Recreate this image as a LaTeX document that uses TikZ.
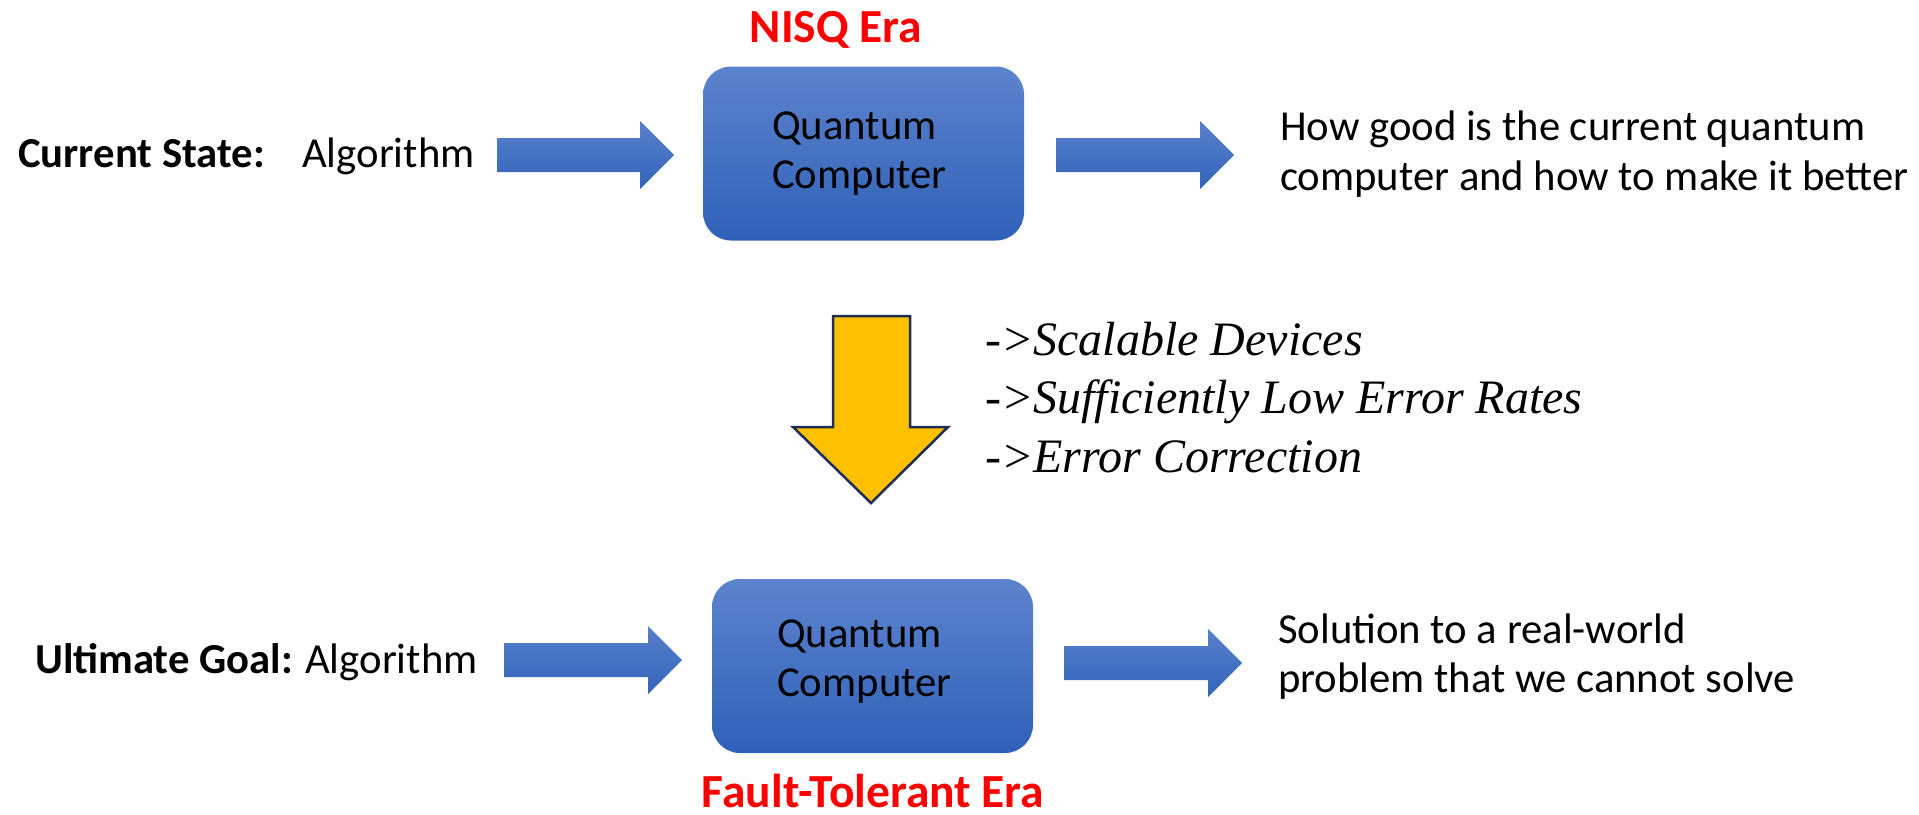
\documentclass[tikz,border=0pt]{standalone}
\usepackage{fontspec}
\setmainfont{Carlito}
\newfontfamily\seriffam{Liberation Serif}
\usetikzlibrary{shapes.geometric}
\definecolor{boxtop}{RGB}{93,131,205}
\definecolor{boxbot}{RGB}{47,97,184}
\definecolor{arrtop}{RGB}{88,128,203}
\definecolor{arrbot}{RGB}{50,100,188}
\definecolor{gold}{RGB}{255,192,0}
\definecolor{navy}{RGB}{31,46,84}
\definecolor{erared}{RGB}{255,0,0}
\tikzset{
  qbox/.style={rounded corners=28pt, top color=boxtop, bottom color=boxbot,
    minimum width=321pt, minimum height=174pt, inner sep=0pt},
  body/.style={inner sep=0pt, anchor=base west, text=black,
    font=\fontsize{42.7}{49}\selectfont},
  era/.style={inner sep=0pt, anchor=base, text=erared,
    font=\fontsize{47.5}{55}\selectfont\bfseries},
  italine/.style={inner sep=0pt, anchor=base west, text=black,
    font=\fontsize{48}{58.5}\selectfont\seriffam\itshape},
  pics/blockarrow/.style={code={
    \shade[top color=arrtop, bottom color=arrbot]
      (0,-17) -- (#1-34,-17) -- (#1-34,-34) -- (#1,0) -- (#1-34,34)
      -- (#1-34,17) -- (0,17) -- cycle;
  }}
}
\begin{document}
\begin{tikzpicture}[x=1pt,y=-1pt]
\useasboundingbox (0,0) rectangle (1919,814);

% top row
\node[body, font=\fontsize{42.7}{49}\selectfont\bfseries] (cs) at (18,167) {Current State:};
\node[body] (alg1) at (302,167) {Algorithm};
\pic (a1) at (497,155) {blockarrow=177};
\node[qbox] (qc1) at (863.5,153.5) {};
\node[body] (qc1t) at (772,139) {\begin{tabular}[t]{@{}l@{}}Quantum\\Computer\end{tabular}};
\node[era] (nisq) at (836,42) {NISQ Era};
\pic (a2) at (1056,155) {blockarrow=178};
\node[body, font=\fontsize{42.7}{50}\selectfont] (out1) at (1280,140) {\begin{tabular}[t]{@{}l@{}}How good is the current quantum\\computer and how to make it better\end{tabular}};

% middle
\filldraw[fill=gold, draw=navy, line width=2.5pt, line join=miter]
  (833,316) -- (910,316) -- (910,427) -- (948,427) -- (871,503)
  -- (793,427) -- (833,427) -- cycle;
\node[italine] (l1) at (985,355) {->Scalable Devices};
\node[italine] (l2) at (985,413.5) {->Sufficiently Low Error Rates};
\node[italine] (l3) at (985,472) {->Error Correction};

% bottom row
\node[body, font=\fontsize{42.7}{49}\selectfont\bfseries] (ug) at (35,673) {Ultimate Goal:};
\node[body] (alg2) at (305,673) {Algorithm};
\pic (a3) at (504,660) {blockarrow=178};
\node[qbox] (qc2) at (872.5,666) {};
\node[body] (qc2t) at (777,647) {\begin{tabular}[t]{@{}l@{}}Quantum\\Computer\end{tabular}};
\node[era] (ft) at (873,807) {Fault-Tolerant Era};
\pic (a4) at (1064,663) {blockarrow=178};
\node[body] (out2) at (1278,643) {\begin{tabular}[t]{@{}l@{}}Solution to a real-world\\problem that we cannot solve\end{tabular}};
\end{tikzpicture}
\end{document}
